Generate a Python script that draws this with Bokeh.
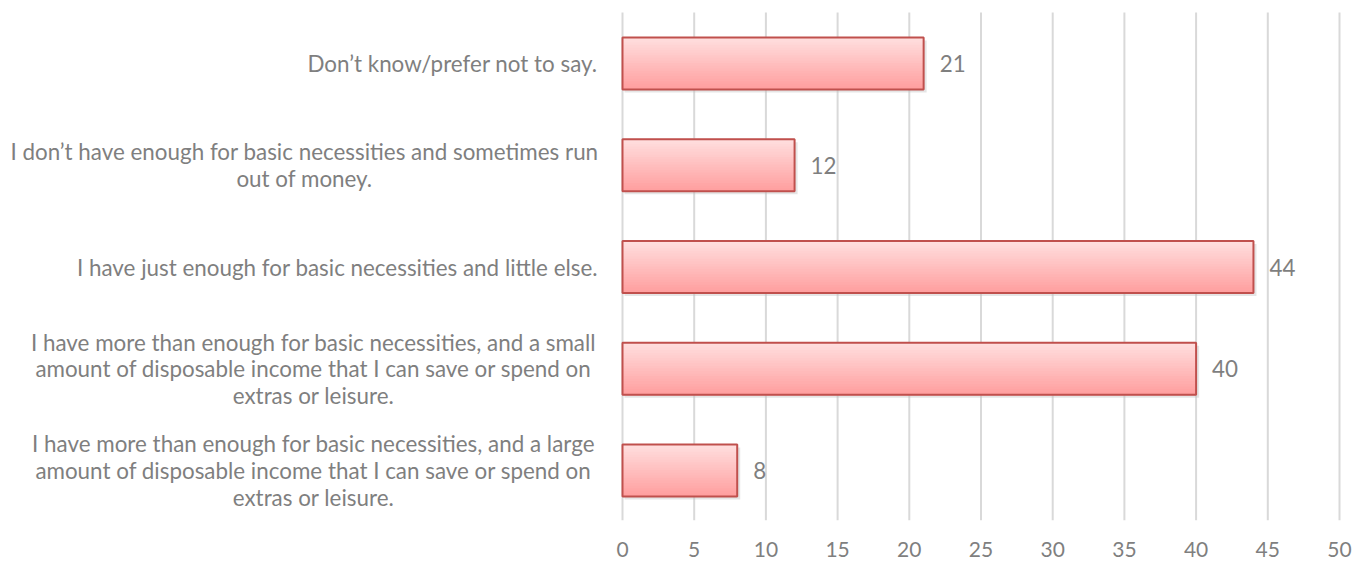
from bokeh.plotting import figure
from bokeh.models import Range1d, FixedTicker
from bokeh.core.properties import value
from bokeh.embed import file_html
from bokeh.resources import INLINE

# ---- data (bottom to top) ----
categories = [
    "I have more than enough for basic necessities, and a large\namount of disposable income that I can save or spend on\nextras or leisure.",
    "I have more than enough for basic necessities, and a small\namount of disposable income that I can save or spend on\nextras or leisure.",
    "I have just enough for basic necessities and little else.",
    "I don\u2019t have enough for basic necessities and sometimes run\nout of money.",
    "Don\u2019t know/prefer not to say.",
]
values = [8, 40, 44, 12, 21]
ticks = [0, 5, 10, 15, 20, 25, 30, 35, 40, 45, 50]
tick_labels = [str(t) for t in ticks]

# ---- layout ----
W, H = 1367, 564
X0_PX, PX_PER_UNIT = 622, 14.34
Y0_PX, PX_PER_CAT = 470, 101.75
FRAME_H = 520
FONT = "Lato"
FS = "22.4px"
TXT = "#7F7F7F"

def px_to_x(px):
    return (px - X0_PX) / PX_PER_UNIT

ys = list(range(len(values)))

p = figure(width=W, height=H, output_backend="svg", toolbar_location=None,
           x_range=Range1d(px_to_x(0), px_to_x(W)),
           y_range=Range1d(-(FRAME_H - Y0_PX) / PX_PER_CAT, Y0_PX / PX_PER_CAT),
           min_border_left=0, min_border_right=0, min_border_top=0,
           min_border_bottom=H - FRAME_H)
p.outline_line_color = None
p.background_fill_color = "white"
p.border_fill_color = "white"
p.xgrid.visible = False
p.ygrid.visible = False
p.yaxis.visible = False

ax = p.xaxis[0]
ax.ticker = FixedTicker(ticks=ticks)
ax.major_label_overrides = {t: l for t, l in zip(ticks, tick_labels)}
ax.axis_line_color = None
ax.major_tick_line_color = None
ax.minor_tick_line_color = None
ax.major_label_text_font = FONT
ax.major_label_text_font_size = "21px"
ax.major_label_text_color = TXT
ax.major_label_standoff = 15

# gridlines
grid_top = Y0_PX / PX_PER_CAT - 12 / PX_PER_CAT
grid_bot = -(FRAME_H - Y0_PX) / PX_PER_CAT
p.segment(x0=ticks, x1=ticks, y0=[grid_bot] * len(ticks), y1=[grid_top] * len(ticks),
          line_color="#D9D9D9", line_width=2)

# bars
bar_h = 52 / PX_PER_CAT
# soft shadow
p.hbar(y=[y - 3 / PX_PER_CAT for y in ys], left=[2 / PX_PER_UNIT] * len(ys),
       right=[v + 3 / PX_PER_UNIT for v in values], height=bar_h,
       fill_color="#BFBFBF", fill_alpha=0.4, line_color=None)

# vertical gradient fill built from thin strips
top_c = (255, 224, 224)
bot_c = (255, 158, 158)
n = 20
for i in range(n):
    t = (i + 0.5) / n
    c = tuple(int(round(top_c[k] + (bot_c[k] - top_c[k]) * t)) for k in range(3))
    col = "#%02x%02x%02x" % c
    off = bar_h / 2 - (i + 0.5) * bar_h / n
    p.hbar(y=[y + off for y in ys], left=0, right=values, height=bar_h / n * 1.35,
           fill_color=col, line_color=None)

p.hbar(y=ys, left=0, right=values, height=bar_h, fill_color=None,
       line_color="#C0504D", line_width=2)

# value labels
p.text(x=values, y=ys, text=[str(v) for v in values], x_offset=16,
       text_align="left", text_baseline="middle", text_font=value(FONT),
       text_font_size=FS, text_color=TXT)

# category labels (block right-aligned near the axis, lines centered)
label_cx_px = [313, 313, 337, 304, 452]
p.text(x=[px_to_x(c) for c in label_cx_px], y=ys, text=categories,
       text_align="center", text_baseline="middle", text_font=value(FONT),
       text_font_size=FS, text_color=TXT, text_line_height=0.99)

open("out.html", "w").write(file_html(p, INLINE))
